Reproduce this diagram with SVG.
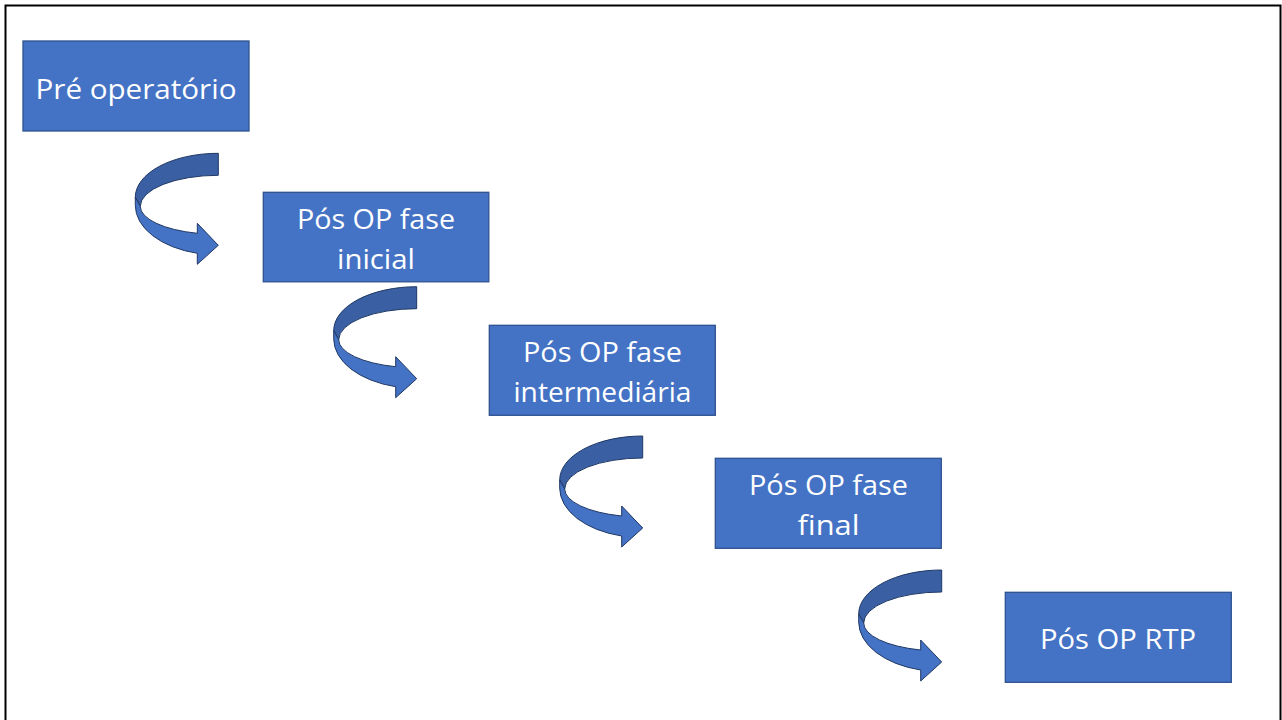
<svg xmlns="http://www.w3.org/2000/svg" width="1282" height="720" viewBox="0 0 1282 720">
  <style>
    .box { fill: #4472C4; stroke: #2F528F; stroke-width: 1.3; }
    .label { font-family: "Open Sans", "Noto Sans", sans-serif; font-size: 27.5px; fill: #FFFFFF; text-anchor: middle; }
    .back { fill: #3A5FA3; stroke: #1F3864; stroke-width: 1; stroke-linejoin: round; }
    .front { fill: #4472C4; stroke: #1F3864; stroke-width: 1; stroke-linejoin: round; }
  </style>
  <defs>
    <!-- U-turn arrow; origin at the upper-right corner of the back band -->
    <g id="uturn">
      <path class="back" d="M0,0 A83,44 0 0 0 -83,44 L-78,53 A78,31 0 0 1 0,22 Z"/>
      <path class="front" d="M-83,44 L-83,52 A83,49.6 0 0 0 -21,100 L-21,111 L0,92 L-21,70 L-21,80 A78,28 0 0 1 -78,53 Z"/>
    </g>
  </defs>

  <rect x="0" y="0" width="1282" height="720" fill="#FFFFFF"/>
  <rect x="5.5" y="5.5" width="1275" height="800" fill="none" stroke="#000000" stroke-width="2"/>

  <g id="connectors">
    <use href="#uturn" x="218.3" y="153.3"/>
    <use href="#uturn" x="416.7" y="286.7"/>
    <use href="#uturn" x="642.7" y="436"/>
    <use href="#uturn" x="941.7" y="570"/>
  </g>

  <g id="pre-operatorio">
    <rect class="box" x="23" y="41" width="226" height="90"/>
    <text class="label" x="136" y="99" textLength="201" lengthAdjust="spacingAndGlyphs">Pré operatório</text>
  </g>

  <g id="pos-op-inicial">
    <rect class="box" x="263.3" y="192.3" width="225.5" height="89.5"/>
    <text class="label" x="376" y="228.5" textLength="158" lengthAdjust="spacingAndGlyphs">Pós OP fase</text>
    <text class="label" x="376" y="268.5" textLength="78" lengthAdjust="spacingAndGlyphs">inicial</text>
  </g>

  <g id="pos-op-intermediaria">
    <rect class="box" x="489.3" y="325.3" width="226" height="90"/>
    <text class="label" x="602.5" y="361.5" textLength="159" lengthAdjust="spacingAndGlyphs">Pós OP fase</text>
    <text class="label" x="602.5" y="401.5" textLength="178" lengthAdjust="spacingAndGlyphs">intermediária</text>
  </g>

  <g id="pos-op-final">
    <rect class="box" x="715.3" y="458.3" width="226" height="90"/>
    <text class="label" x="828.5" y="494.5" textLength="159" lengthAdjust="spacingAndGlyphs">Pós OP fase</text>
    <text class="label" x="828.5" y="534.5" textLength="62" lengthAdjust="spacingAndGlyphs">final</text>
  </g>

  <g id="pos-op-rtp">
    <rect class="box" x="1005.3" y="592.3" width="226" height="90"/>
    <text class="label" x="1118" y="649" textLength="156" lengthAdjust="spacingAndGlyphs">Pós OP RTP</text>
  </g>
</svg>
